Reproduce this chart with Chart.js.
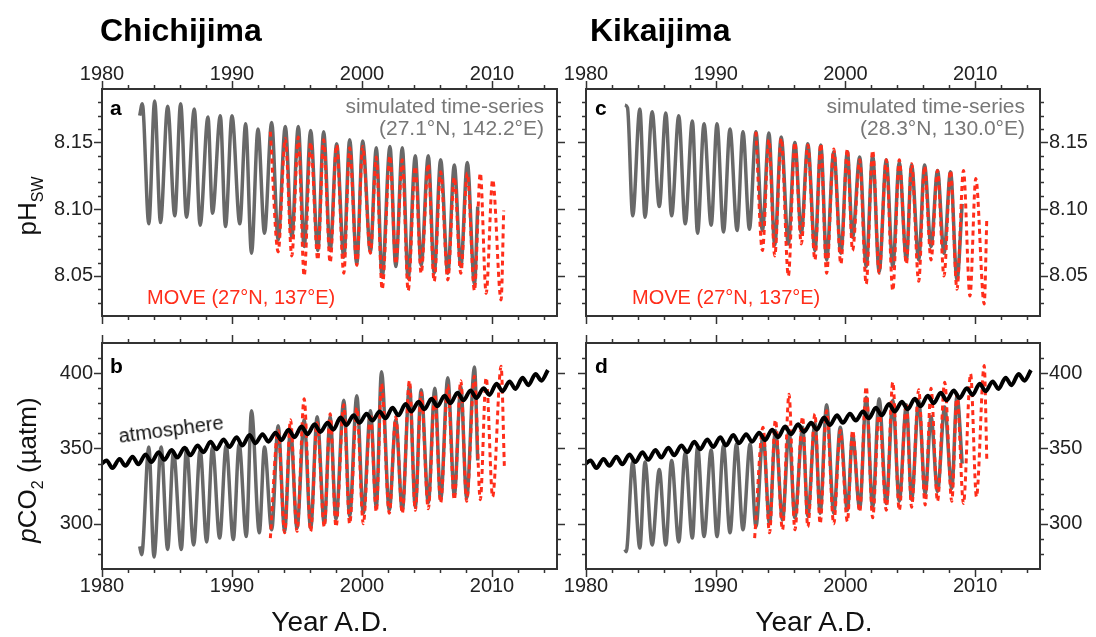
<!DOCTYPE html>
<html>
<head>
<meta charset="utf-8">
<title>pH and pCO2 time series</title>
<script src="https://cdn.jsdelivr.net/npm/chart.js@4.4.1/dist/chart.umd.min.js"></script>
<style>
body { margin: 0; background: #fff; font-family: "Liberation Sans", Arial, sans-serif; }
#page { position: relative; width: 1096px; height: 637px; overflow: hidden; }
#page canvas { position: absolute; left: 0; top: 0; }
.t { position: absolute; white-space: nowrap; line-height: 1; }
.site { font-weight: bold; font-size: 32px; color: #000; }
.letter { font-weight: bold; font-size: 21px; color: #000; }
.sim { font-size: 21px; color: #777; text-align: right; }
.move { font-size: 20px; color: #ff2d1a; }
.xlab { font-size: 28px; color: #111; transform: translate(-50%, -50%); }
.ylab { font-size: 26px; color: #111; transform: translate(-50%, -50%) rotate(-90deg); }
.ylab sub { font-size: 16px; }
</style>
</head>
<body>
<div id="page">
  <canvas id="cA" width="1096" height="637"></canvas>
  <canvas id="cB" width="1096" height="637"></canvas>
  <canvas id="cC" width="1096" height="637"></canvas>
  <canvas id="cD" width="1096" height="637"></canvas>

  <div class="t site" style="left:100px; top:14px;">Chichijima</div>
  <div class="t site" style="left:590px; top:14px;">Kikaijima</div>

  <div class="t letter" style="left:110px; top:97px;">a</div>
  <div class="t letter" style="left:110px; top:355px;">b</div>
  <div class="t letter" style="left:595px; top:97px;">c</div>
  <div class="t letter" style="left:595px; top:355px;">d</div>

  <div class="t sim" style="right:552px; top:95px;">simulated time-series<br><span style="line-height:1.15">(27.1°N, 142.2°E)</span></div>
  <div class="t sim" style="right:71px; top:95px;">simulated time-series<br><span style="line-height:1.15">(28.3°N, 130.0°E)</span></div>

  <div class="t move" style="left:147px; top:287px;">MOVE (27°N, 137°E)</div>
  <div class="t move" style="left:632px; top:287px;">MOVE (27°N, 137°E)</div>

  <div class="t" style="left:171px; top:429px; font-size:20px; color:#111; transform:translate(-50%,-50%) rotate(-7.5deg);">atmosphere</div>

  <div class="t xlab" style="left:330px; top:622px;">Year A.D.</div>
  <div class="t xlab" style="left:814px; top:622px;">Year A.D.</div>

  <div class="t ylab" style="left:30px; top:206px;">pH<sub>SW</sub></div>
  <div class="t ylab" style="left:30px; top:470px;"><i>p</i>CO<sub>2</sub> (µatm)</div>
</div>

<script>
// tick labels
const yearTicks = [1980, 1990, 2000, 2010];
const phTicks = [8.05, 8.10, 8.15];
const co2Ticks = [300, 350, 400];

// Chichijima pH, simulated (peaks and troughs)
const chiPhSimT = [1982.9, 1983.1, 1983.6, 1984.05, 1984.5, 1985.05, 1985.6, 1986.05, 1986.5, 1987.1, 1987.55, 1988.15, 1988.5, 1989.1, 1989.5, 1990.0, 1990.6, 1991.05, 1991.5, 1992.0, 1992.5, 1993.05, 1993.55, 1994.1, 1994.6, 1995.1, 1995.55, 1996.05, 1996.6, 1997.05, 1997.55, 1998.05, 1998.6, 1999.05, 1999.6, 2000.05, 2000.65, 2001.1, 2001.55, 2002.15, 2002.6, 2003.1, 2003.55, 2004.1, 2004.55, 2005.1, 2005.55, 2006.05, 2006.6, 2007.1, 2007.6, 2008.1, 2008.65, 2008.9];
const chiPhSimV = [8.170, 8.179, 8.089, 8.181, 8.090, 8.177, 8.095, 8.179, 8.094, 8.175, 8.088, 8.169, 8.097, 8.170, 8.087, 8.170, 8.089, 8.164, 8.067, 8.160, 8.082, 8.165, 8.077, 8.162, 8.079, 8.162, 8.072, 8.159, 8.069, 8.158, 8.069, 8.149, 8.064, 8.152, 8.059, 8.151, 8.068, 8.146, 8.049, 8.147, 8.057, 8.146, 8.048, 8.140, 8.058, 8.140, 8.052, 8.137, 8.052, 8.133, 8.057, 8.135, 8.044, 8.102];
// Chichijima pH, MOVE
const chiPhMoveT = [1992.95, 1993.55, 1994.1, 1994.6, 1995.1, 1995.55, 1996.05, 1996.6, 1997.05, 1997.55, 1998.05, 1998.6, 1999.05, 1999.6, 2000.05, 2000.65, 2001.1, 2001.55, 2002.15, 2002.6, 2003.1, 2003.55, 2004.1, 2004.55, 2005.1, 2005.55, 2006.05, 2006.6, 2007.1, 2007.6, 2008.1, 2008.65, 2009.1, 2009.55, 2010.05, 2010.7, 2010.9];
const chiPhMoveV = [8.158, 8.068, 8.153, 8.065, 8.154, 8.050, 8.150, 8.062, 8.152, 8.060, 8.148, 8.052, 8.146, 8.058, 8.147, 8.067, 8.139, 8.040, 8.140, 8.059, 8.137, 8.039, 8.132, 8.052, 8.134, 8.046, 8.128, 8.047, 8.124, 8.052, 8.127, 8.039, 8.127, 8.037, 8.122, 8.032, 8.099];

// Chichijima pCO2, simulated
const chiCo2SimT = [1982.9, 1983.05, 1983.6, 1984.0, 1984.55, 1985.05, 1985.5, 1986.1, 1986.5, 1987.05, 1987.55, 1988.05, 1988.5, 1989.05, 1989.55, 1990.1, 1990.55, 1991.1, 1991.5, 1992.1, 1992.5, 1993.05, 1993.55, 1994.05, 1994.5, 1995.0, 1995.55, 1996.05, 1996.55, 1997.1, 1997.55, 1998.0, 1998.6, 1999.05, 1999.6, 2000.1, 2000.65, 2001.1, 2001.5, 2002.1, 2002.6, 2003.1, 2003.65, 2004.1, 2004.55, 2005.1, 2005.6, 2006.05, 2006.6, 2007.1, 2007.6, 2008.05, 2008.65, 2008.9];
const chiCo2SimV = [285, 279.5, 351, 278, 351, 283, 348, 283, 350, 286, 349, 288, 351, 290.5, 352, 289.5, 353, 291.5, 375, 294, 351, 296, 365, 295, 363, 297, 369, 297, 371, 300, 371, 303, 382, 305, 385, 307, 375, 311, 401, 309, 369, 309, 392, 311, 389, 314, 390, 316, 397, 319, 391, 317, 404, 342];
// Chichijima pCO2, MOVE
const chiCo2MoveT = [1992.95, 1993.55, 1994.05, 1994.5, 1995.0, 1995.55, 1996.05, 1996.55, 1997.1, 1997.55, 1998.0, 1998.6, 1999.05, 1999.6, 2000.1, 2000.65, 2001.1, 2001.5, 2002.1, 2002.6, 2003.1, 2003.65, 2004.1, 2004.55, 2005.1, 2005.6, 2006.05, 2006.6, 2007.1, 2007.6, 2008.05, 2008.65, 2009.1, 2009.55, 2010.05, 2010.7, 2010.95];
const chiCo2MoveV = [290.5, 362, 294, 369, 295, 383, 295, 367, 298, 373, 298, 379, 300, 377, 300, 373, 308, 393, 307, 371, 307, 395, 309, 387, 310, 386, 314, 392, 316, 395, 315, 398, 316, 397, 318, 404.5, 338];

// Kikaijima pH, simulated
const kikPhSimT = [1983.0, 1983.2, 1983.6, 1984.15, 1984.55, 1985.1, 1985.65, 1986.15, 1986.6, 1987.15, 1987.65, 1988.2, 1988.6, 1989.1, 1989.65, 1990.1, 1990.6, 1991.1, 1991.65, 1992.1, 1992.6, 1993.1, 1993.6, 1994.1, 1994.55, 1995.05, 1995.6, 1996.1, 1996.6, 1997.1, 1997.65, 1998.1, 1998.55, 1999.1, 1999.65, 2000.15, 2000.55, 2001.1, 2001.6, 2002.1, 2002.6, 2003.15, 2003.65, 2004.15, 2004.7, 2005.1, 2005.65, 2006.1, 2006.6, 2007.1, 2007.6, 2008.1, 2008.6, 2009.0];
const kikPhSimV = [8.178, 8.176, 8.095, 8.175, 8.094, 8.173, 8.102, 8.172, 8.095, 8.170, 8.089, 8.166, 8.082, 8.164, 8.088, 8.164, 8.083, 8.160, 8.084, 8.158, 8.085, 8.158, 8.084, 8.157, 8.073, 8.154, 8.074, 8.150, 8.082, 8.149, 8.069, 8.148, 8.062, 8.143, 8.067, 8.143, 8.079, 8.139, 8.057, 8.140, 8.053, 8.137, 8.057, 8.135, 8.062, 8.133, 8.062, 8.133, 8.072, 8.129, 8.067, 8.128, 8.047, 8.104];
// Kikaijima pH, MOVE
const kikPhMoveT = [1993.1, 1993.6, 1994.1, 1994.55, 1995.05, 1995.6, 1996.1, 1996.6, 1997.1, 1997.65, 1998.1, 1998.55, 1999.1, 1999.65, 2000.15, 2000.55, 2001.1, 2001.6, 2002.1, 2002.6, 2003.15, 2003.65, 2004.15, 2004.7, 2005.1, 2005.65, 2006.1, 2006.6, 2007.1, 2007.6, 2008.1, 2008.6, 2009.1, 2009.6, 2010.05, 2010.7, 2010.9];
const kikPhMoveV = [8.158, 8.069, 8.152, 8.065, 8.153, 8.050, 8.150, 8.074, 8.148, 8.062, 8.149, 8.052, 8.145, 8.059, 8.145, 8.069, 8.137, 8.044, 8.144, 8.052, 8.137, 8.039, 8.137, 8.059, 8.134, 8.046, 8.132, 8.062, 8.129, 8.050, 8.129, 8.040, 8.129, 8.035, 8.123, 8.029, 8.094];

// Kikaijima pCO2, simulated
const kikCo2SimT = [1983.0, 1983.1, 1983.6, 1984.15, 1984.55, 1985.1, 1985.65, 1986.15, 1986.6, 1987.15, 1987.65, 1988.2, 1988.6, 1989.1, 1989.65, 1990.1, 1990.6, 1991.1, 1991.6, 1992.1, 1992.65, 1993.1, 1993.65, 1994.15, 1994.6, 1995.15, 1995.65, 1996.1, 1996.7, 1997.1, 1997.65, 1998.05, 1998.55, 1999.1, 1999.6, 2000.15, 2000.55, 2001.1, 2001.6, 2002.1, 2002.6, 2003.15, 2003.65, 2004.15, 2004.7, 2005.1, 2005.65, 2006.15, 2006.6, 2007.1, 2007.65, 2008.2, 2008.6, 2009.0];
const kikCo2SimV = [283, 281.5, 341, 284, 341, 286, 336, 286, 342, 288, 347, 290.5, 351, 291.5, 349, 291.5, 352, 294, 353, 296, 353, 298, 359, 300, 362, 302.5, 362, 304, 364, 305, 367, 307, 379, 307, 364, 309, 359, 310, 384, 311, 383, 313.5, 382, 315, 379, 316, 382, 320, 371, 321.5, 377.5, 323.5, 385, 340];
// Kikaijima pCO2, MOVE
const kikCo2MoveT = [1993.0, 1993.65, 1994.15, 1994.6, 1995.15, 1995.65, 1996.1, 1996.7, 1997.1, 1997.65, 1998.05, 1998.55, 1999.1, 1999.6, 2000.15, 2000.55, 2001.1, 2001.6, 2002.1, 2002.6, 2003.15, 2003.65, 2004.15, 2004.7, 2005.1, 2005.65, 2006.15, 2006.6, 2007.1, 2007.65, 2008.2, 2008.6, 2009.1, 2009.65, 2010.1, 2010.7, 2010.9];
const kikCo2MoveV = [290.5, 364, 294, 369, 296, 386, 296, 371, 298, 373, 300, 375, 300, 362, 301.5, 362, 308, 391, 304, 375, 309, 394, 309, 380, 311, 389, 312.5, 390, 315, 394, 315, 386, 313.5, 399.5, 318, 405, 342];

// atmospheric pCO2 (same curve in both bottom panels)
const atmT = [1980.0, 1980.35, 1980.8, 1981.35, 1981.8, 1982.35, 1982.8, 1983.35, 1983.8, 1984.35, 1984.8, 1985.35, 1985.8, 1986.35, 1986.8, 1987.35, 1987.8, 1988.35, 1988.8, 1989.35, 1989.8, 1990.35, 1990.8, 1991.35, 1991.8, 1992.35, 1992.8, 1993.35, 1993.8, 1994.35, 1994.8, 1995.35, 1995.8, 1996.35, 1996.8, 1997.35, 1997.8, 1998.35, 1998.8, 1999.35, 1999.8, 2000.35, 2000.8, 2001.35, 2001.8, 2002.35, 2002.8, 2003.35, 2003.8, 2004.35, 2004.8, 2005.35, 2005.8, 2006.35, 2006.8, 2007.35, 2007.8, 2008.35, 2008.8, 2009.35, 2009.8, 2010.35, 2010.8, 2011.35, 2011.8, 2012.35, 2012.8, 2013.35, 2013.8, 2014.3];
const atmV = [340, 342, 337, 343, 338.5, 344.5, 339.5, 346, 341, 347.5, 342.5, 349, 344, 350.5, 345.5, 352, 347.5, 354.5, 349.5, 356, 351, 357.5, 352, 359, 353.5, 359.5, 354.5, 360.5, 355.5, 362.5, 357.5, 364.5, 359.5, 366, 361, 367, 362.5, 370.5, 365.5, 372, 367, 373, 368.5, 374.5, 370, 377, 372, 379.5, 374.5, 381, 376, 383, 378, 385, 380, 387, 382, 388.5, 383.5, 390, 385.5, 393, 388, 394.5, 389.5, 397, 392, 399.5, 395, 402];

const W = 1096, H = 637;
const AXW_LEFT = 80, AXW_RIGHT = 56, AXH = 40;
const fontFam = '"Liberation Sans", Arial, sans-serif';

function pts(t, v) {
    return t.map((x, i) => ({x: x, y: v[i]}));
}

function simSet(t, v) {
    return {data: pts(t, v), borderColor: '#686868', borderWidth: 3.5,
        pointRadius: 0, cubicInterpolationMode: 'monotone', tension: 0.4, fill: false};
}
function moveSet(t, v) {
    return {data: pts(t, v), borderColor: '#ff2d1a', borderWidth: 3, borderDash: [5, 4],
        pointRadius: 0, cubicInterpolationMode: 'monotone', tension: 0.4, fill: false};
}
function atmSet() {
    return {data: pts(atmT, atmV), borderColor: '#000', borderWidth: 4,
        pointRadius: 0, cubicInterpolationMode: 'monotone', tension: 0.4, fill: false};
}

// frame and outward ticks on all four sides
const frameTicks = {
    id: 'frameTicks',
    afterDraw(chart) {
        const ctx = chart.ctx, a = chart.chartArea;
        const xs = chart.scales.x, ys = chart.scales.y;
        const o = chart.options.plugins.frameTicks;
        ctx.save();
        ctx.strokeStyle = '#333';
        ctx.lineWidth = 1.5;
        function tick(x1, y1, x2, y2) {
            ctx.beginPath(); ctx.moveTo(x1, y1); ctx.lineTo(x2, y2); ctx.stroke();
        }
        for (let yr = 1980; yr <= 2014; yr += 2) {
            const len = yr % 10 === 0 ? 8 : 4;
            const px = Math.round(xs.getPixelForValue(yr)) + 0.5;
            tick(px, a.top, px, a.top - len);
            tick(px, a.bottom, px, a.bottom + len);
        }
        const k0 = Math.round(o.min / o.step), k1 = Math.round(o.max / o.step);
        for (let k = k0 + 1; k < k1; k++) {
            const v = k * o.step;
            const major = o.majors.some(m => Math.abs(m - v) < o.step / 10);
            const len = major ? 8 : 4;
            const py = Math.round(ys.getPixelForValue(v)) + 0.5;
            tick(a.left, py, a.left - len, py);
            tick(a.right, py, a.right + len, py);
        }
        ctx.lineWidth = 2;
        ctx.strokeRect(a.left, a.top, a.right - a.left, a.bottom - a.top);
        ctx.restore();
    }
};

function makePanel(id, cfg) {
    const pad = {};
    const axw = cfg.yPos === 'left' ? AXW_LEFT : AXW_RIGHT;
    if (cfg.yPos === 'left') { pad.left = cfg.area[0] - axw; pad.right = W - cfg.area[2]; }
    else { pad.left = cfg.area[0]; pad.right = W - cfg.area[2] - axw; }
    if (cfg.xPos === 'top') { pad.top = cfg.area[1] - AXH; pad.bottom = H - cfg.area[3]; }
    else { pad.top = cfg.area[1]; pad.bottom = H - cfg.area[3] - AXH; }

    new Chart(document.getElementById(id), {
        type: 'line',
        data: {datasets: cfg.datasets},
        options: {
            responsive: false,
            animation: false,
            devicePixelRatio: 1,
            layout: {padding: pad},
            plugins: {
                legend: {display: false},
                tooltip: {enabled: false},
                frameTicks: {min: cfg.yMin, max: cfg.yMax, step: cfg.yStep, majors: cfg.yTicks}
            },
            scales: {
                x: {
                    type: 'linear', position: cfg.xPos, min: 1980, max: 2015,
                    afterFit: s => { s.height = AXH; },
                    afterBuildTicks: s => { s.ticks = yearTicks.map(v => ({value: v})); },
                    grid: {display: false, drawTicks: false}, border: {display: false},
                    ticks: {font: {family: fontFam, size: 20}, color: '#222', maxRotation: 0,
                        autoSkip: false, padding: cfg.xPos === 'top' ? 3 : 5, callback: v => String(v)}
                },
                y: {
                    type: 'linear', position: cfg.yPos, min: cfg.yMin, max: cfg.yMax,
                    afterFit: s => { s.width = axw; },
                    afterBuildTicks: s => { s.ticks = cfg.yTicks.map(v => ({value: v})); },
                    grid: {display: false, drawTicks: false}, border: {display: false},
                    ticks: {font: {family: fontFam, size: 20}, color: '#222',
                        padding: 9, callback: cfg.fmt}
                }
            }
        },
        plugins: [frameTicks]
    });
}

const fmtPh = v => v.toFixed(2);
const fmtCo2 = v => String(Math.round(v));

makePanel('cA', {xPos: 'top', yPos: 'left', area: [102, 89, 557, 316],
    yMin: 8.02, yMax: 8.19, yStep: 0.01, yTicks: phTicks, fmt: fmtPh,
    datasets: [moveSet(chiPhMoveT, chiPhMoveV), simSet(chiPhSimT, chiPhSimV)]});
makePanel('cB', {xPos: 'bottom', yPos: 'left', area: [102, 343, 557, 569],
    yMin: 270, yMax: 420, yStep: 10, yTicks: co2Ticks, fmt: fmtCo2,
    datasets: [atmSet(), moveSet(chiCo2MoveT, chiCo2MoveV), simSet(chiCo2SimT, chiCo2SimV)]});
makePanel('cC', {xPos: 'top', yPos: 'right', area: [586, 89, 1040, 316],
    yMin: 8.02, yMax: 8.19, yStep: 0.01, yTicks: phTicks, fmt: fmtPh,
    datasets: [moveSet(kikPhMoveT, kikPhMoveV), simSet(kikPhSimT, kikPhSimV)]});
makePanel('cD', {xPos: 'bottom', yPos: 'right', area: [586, 343, 1040, 569],
    yMin: 270, yMax: 420, yStep: 10, yTicks: co2Ticks, fmt: fmtCo2,
    datasets: [atmSet(), moveSet(kikCo2MoveT, kikCo2MoveV), simSet(kikCo2SimT, kikCo2SimV)]});
</script>
</body>
</html>
